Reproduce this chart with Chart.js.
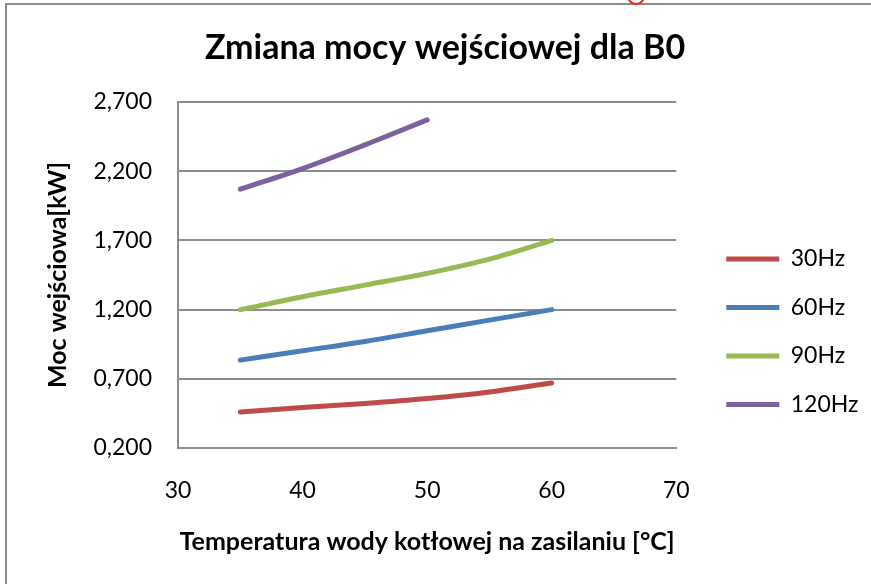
<!DOCTYPE html>
<html>
<head>
<meta charset="utf-8">
<script src="https://cdn.jsdelivr.net/npm/chart.js@4.4.1/dist/chart.umd.min.js"></script>
<style>
    html, body { margin: 0; padding: 0; background: #fff; overflow: hidden; }
    #wrap { position: relative; width: 871px; height: 584px; }
    #frame {
        position: absolute; left: 5px; top: 3px; width: 900px; height: 700px;
        border-top: 2px solid #8a8a8a; border-left: 2px solid #8a8a8a;
        pointer-events: none;
    }
    #mark {
        position: absolute; left: 627px; top: -13px; width: 14px; height: 14px;
        border: 2px solid #ff1a1a; border-radius: 50%;
    }
</style>
</head>
<body>
<div id="wrap">
    <canvas id="powerChart" width="871" height="584"></canvas>
    <div id="frame"></div>
    <div id="mark"></div>
</div>
<script>
// temperatura wody [°C]
const temps = [35, 40, 45, 50, 55, 60];
const temps120 = [35, 40, 45, 50];

// moc wejściowa [kW]
const hz30 = [0.460, 0.492, 0.521, 0.557, 0.605, 0.670];
const hz60 = [0.835, 0.902, 0.970, 1.047, 1.124, 1.200];
const hz90 = [1.199, 1.293, 1.377, 1.462, 1.565, 1.700];
const hz120 = [2.070, 2.219, 2.390, 2.571];

const yTicks = [0.2, 0.7, 1.2, 1.7, 2.2, 2.7];
const xTicks = [30, 40, 50, 60, 70];

const toPoints = (xs, ys) => ys.map((v, i) => ({ x: xs[i], y: v }));

Chart.defaults.font.family = "Lato, 'Open Sans', sans-serif";
Chart.defaults.color = '#000';

const gridColor = '#8c8c8c';

function series(label, xs, ys, color) {
    return {
        label: label,
        data: toPoints(xs, ys),
        borderColor: color,
        backgroundColor: color,
        borderWidth: 5,
        borderCapStyle: 'round',
        pointRadius: 0,
        pointHoverRadius: 0,
        cubicInterpolationMode: 'monotone',
        fill: false
    };
}

const ctx = document.getElementById('powerChart');
new Chart(ctx, {
    type: 'line',
    data: {
        datasets: [
            series('30Hz', temps, hz30, '#be4b48'),
            series('60Hz', temps, hz60, '#4a7ebb'),
            series('90Hz', temps, hz90, '#98b954'),
            series('120Hz', temps120, hz120, '#7d60a0')
        ]
    },
    options: {
        responsive: false,
        animation: false,
        layout: {
            padding: { left: 21.5, right: 2.5, top: 0, bottom: 0 }
        },
        plugins: {
            title: {
                display: true,
                text: 'Zmiana mocy wejściowej dla B0',
                font: { size: 34, weight: 'bold' },
                padding: { top: 28, bottom: 33.2 }
            },
            legend: {
                position: 'right',
                align: 'center',
                maxWidth: 400,
                title: {
                    display: true,
                    text: ' ',
                    font: { size: 10 },
                    padding: { top: 33.75, bottom: 33.75 }
                },
                labels: {
                    usePointStyle: true,
                    pointStyle: 'line',
                    pointStyleWidth: 53,
                    padding: 25.5,
                    font: { size: 23 },
                    color: '#000'
                }
            },
            tooltip: { enabled: false }
        },
        scales: {
            x: {
                type: 'linear',
                min: 30,
                max: 70,
                afterBuildTicks: (s) => { s.ticks = xTicks.map(v => ({ value: v })); },
                afterFit: (s) => { s.height = 136; },
                ticks: {
                    padding: 28.5,
                    font: { size: 23 }
                },
                grid: { display: false, drawTicks: false },
                border: { display: true, color: gridColor, width: 2 },
                title: {
                    display: true,
                    text: 'Temperatura wody kotłowej na zasilaniu [°C]',
                    font: { size: 25, weight: 'bold' },
                    padding: { top: 0, bottom: 27 }
                }
            },
            y: {
                min: 0.2,
                max: 2.7,
                afterBuildTicks: (s) => { s.ticks = yTicks.map(v => ({ value: v })); },
                afterFit: (s) => { s.width = 156.5; },
                ticks: {
                    padding: 26,
                    font: { size: 23 },
                    callback: (v) => Number(v).toFixed(3).replace('.', ',')
                },
                grid: { color: gridColor, lineWidth: 2, drawTicks: false },
                border: { display: true, color: gridColor, width: 2 },
                title: {
                    display: true,
                    text: 'Moc wejściowa[kW]',
                    font: { size: 25, weight: 'bold' },
                    padding: { top: 21.5, bottom: 0 }
                }
            },
            // empty space between plot and legend
            gap: {
                position: 'right',
                display: true,
                afterFit: (s) => { s.width = 24.5; },
                ticks: { display: false },
                grid: { display: false, drawTicks: false },
                border: { display: false }
            }
        }
    }
});
</script>
</body>
</html>
